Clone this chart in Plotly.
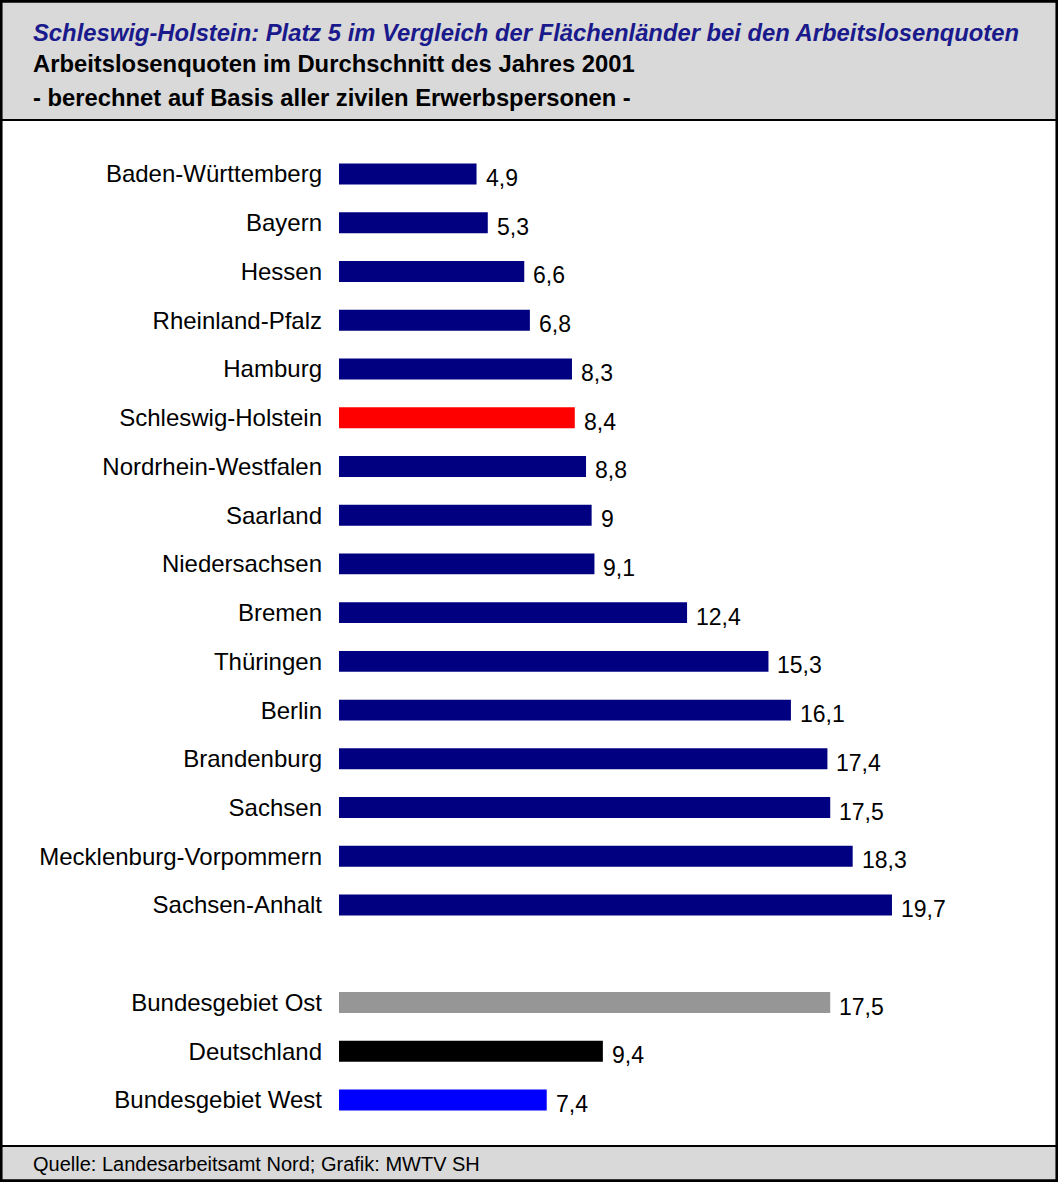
import plotly.graph_objects as go

laender = ["Baden-Württemberg", "Bayern", "Hessen", "Rheinland-Pfalz", "Hamburg",
           "Schleswig-Holstein", "Nordrhein-Westfalen", "Saarland", "Niedersachsen",
           "Bremen", "Thüringen", "Berlin", "Brandenburg", "Sachsen",
           "Mecklenburg-Vorpommern", "Sachsen-Anhalt"]
quoten = [4.9, 5.3, 6.6, 6.8, 8.3, 8.4, 8.8, 9.0, 9.1, 12.4, 15.3, 16.1, 17.4, 17.5, 18.3, 19.7]

gebiete = ["Bundesgebiet Ost", "Deutschland", "Bundesgebiet West"]
gebiete_quoten = [17.5, 9.4, 7.4]

W, H = 1058, 1182
NAVY = "#000080"
FONT = "Liberation Sans, Arial, sans-serif"

labels = laender + gebiete
values = quoten + gebiete_quoten
pos = list(range(len(laender))) + [len(laender) + 1 + i for i in range(len(gebiete))]
colors = ["#ff0000" if n == "Schleswig-Holstein" else NAVY for n in laender] + ["#969696", "#000000", "#0000ff"]


def fmt(v):
    return str(int(v)) if v == int(v) else str(v).replace(".", ",")


fig = go.Figure(go.Bar(
    x=values, y=pos, orientation="h",
    marker=dict(color=colors, line=dict(width=0)),
    width=0.43, hoverinfo="skip",
))

for v, p in zip(values, pos):
    fig.add_annotation(x=v, y=p, text=fmt(v), showarrow=False, xanchor="left",
                       xshift=7, yshift=-4, font=dict(size=23, color="black", family=FONT))

step = 48.67
top_px = 174 - step / 2
bot_px = 1100 + step / 2
x0_px = 339
px_per_unit = 28.07
x1_px = x0_px + 25 * px_per_unit

fig.update_layout(
    width=W, height=H,
    margin=dict(l=0, r=0, t=0, b=0),
    plot_bgcolor="white", paper_bgcolor="white",
    showlegend=False,
    font=dict(family=FONT, color="black"),
    xaxis=dict(domain=[x0_px / W, x1_px / W], range=[0, 25], visible=False, fixedrange=True),
    yaxis=dict(domain=[1 - bot_px / H, 1 - top_px / H], range=[max(pos) + 0.5, -0.5],
               tickvals=pos, ticktext=labels, ticks="", showgrid=False, zeroline=False,
               showline=False, ticklabelstandoff=16, tickfont=dict(size=24, family=FONT)),
)

# header and footer boxes
hdr = 120
ftr = 1146
fig.add_shape(type="rect", xref="paper", yref="paper", x0=0, x1=1, y0=1 - hdr / H, y1=1,
              fillcolor="#d9d9d9", line=dict(color="black", width=2), layer="below")
fig.add_shape(type="rect", xref="paper", yref="paper", x0=0, x1=1, y0=0, y1=1 - ftr / H,
              fillcolor="#d9d9d9", line=dict(color="black", width=2), layer="below")
fig.add_shape(type="rect", xref="paper", yref="paper", x0=0.001, x1=0.999, y0=0.001, y1=0.999,
              line=dict(color="black", width=3))

tx = 31 / W
fig.add_annotation(xref="paper", yref="paper", x=tx, y=1 - 32 / H, xanchor="left", yanchor="middle",
                   text="<b><i>Schleswig-Holstein: Platz 5 im Vergleich der Flächenländer bei den Arbeitslosenquoten</i></b>",
                   showarrow=False, font=dict(size=23.8, color="#1a1a8c", family=FONT))
fig.add_annotation(xref="paper", yref="paper", x=tx, y=1 - 64 / H, xanchor="left", yanchor="middle",
                   text="<b>Arbeitslosenquoten im Durchschnitt des Jahres 2001</b>",
                   showarrow=False, font=dict(size=23.8, color="black", family=FONT))
fig.add_annotation(xref="paper", yref="paper", x=tx, y=1 - 97 / H, xanchor="left", yanchor="middle",
                   text="<b>- berechnet auf Basis aller zivilen Erwerbspersonen -</b>",
                   showarrow=False, font=dict(size=23.8, color="black", family=FONT))
fig.add_annotation(xref="paper", yref="paper", x=tx, y=1 - 1164 / H, xanchor="left", yanchor="middle",
                   text="Quelle: Landesarbeitsamt Nord; Grafik: MWTV SH",
                   showarrow=False, font=dict(size=20, color="black", family=FONT))

fig.write_html("out.html", config={"displayModeBar": False},
               post_script="document.body.style.margin='0';")
